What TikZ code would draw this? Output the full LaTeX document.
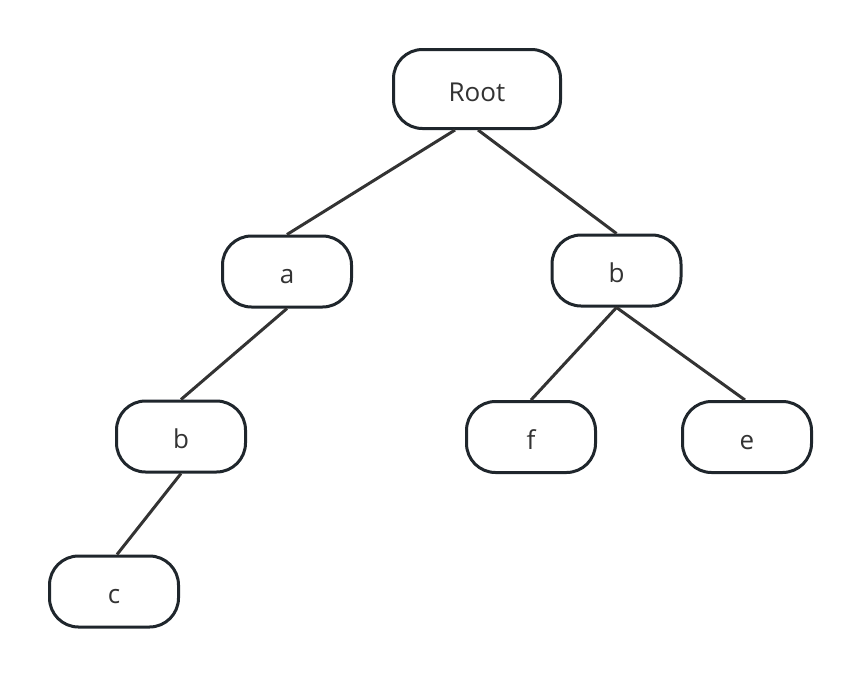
\documentclass[tikz,border=0pt]{standalone}
\usepackage{fontspec}
\setmainfont{Open Sans}
\definecolor{boxline}{HTML}{1F262C}
\definecolor{edgeline}{HTML}{333333}
\definecolor{txt}{HTML}{333333}
\begin{document}
\begin{tikzpicture}[x=1pt,y=-1pt,
  treenode/.style={draw=boxline, line width=3pt, fill=white, rounded corners=29pt,
    minimum width=129pt, minimum height=71pt, inner sep=0pt, text=txt,
    text height=24pt, text depth=0pt,
    font=\fontsize{26}{31}\selectfont},
  rootnode/.style={treenode, minimum width=167pt, minimum height=79pt},
  edge/.style={draw=edgeline, line width=3pt}]
\useasboundingbox (0,0) rectangle (862,678);
\node[rootnode] (root) at (477,89) {Root};
\node[treenode] (a) at (287,271.5) {a};
\node[treenode] (b1) at (616.5,270.5) {b};
\node[treenode] (b2) at (181,436.5) {b};
\node[treenode] (f) at (531,437) {f};
\node[treenode] (e) at (747,437) {e};
\node[treenode] (c) at (114,591.5) {c};
\draw[edge] ([xshift=-22pt]root.south) -- (a.north);
\draw[edge] ([xshift=1pt]root.south) -- (b1.north);
\draw[edge] (a.south) -- (b2.north);
\draw[edge] (b2.south) -- ([xshift=3pt]c.north);
\draw[edge] (b1.south) -- (f.north);
\draw[edge] (b1.south) -- ([xshift=-2pt]e.north);
\end{tikzpicture}
\end{document}
